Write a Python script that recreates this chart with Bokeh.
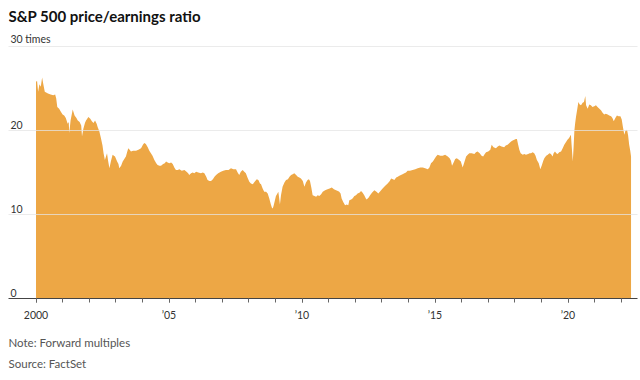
from bokeh.plotting import figure
from bokeh.models import ColumnDataSource, Range1d, FixedTicker, Label, Title
from bokeh.core.properties import value
from bokeh.embed import file_html
from bokeh.resources import INLINE

# ---- data (decimal year, forward P/E) ----
dates = [
    2000.00, 2000.04, 2000.08, 2000.13, 2000.18, 2000.23, 2000.27, 2000.33, 2000.45, 2000.55,
    2000.65, 2000.72, 2000.76, 2000.80, 2000.87, 2000.94, 2001.00, 2001.06, 2001.12, 2001.19,
    2001.23, 2001.25, 2001.30, 2001.38, 2001.45, 2001.52, 2001.57, 2001.64, 2001.70, 2001.73,
    2001.78, 2001.84, 2001.88, 2001.97, 2002.04, 2002.10, 2002.16, 2002.22, 2002.28, 2002.32,
    2002.38, 2002.44, 2002.50, 2002.54, 2002.59, 2002.64, 2002.67, 2002.71, 2002.76, 2002.82,
    2002.88, 2002.93, 2002.97, 2003.05, 2003.10, 2003.13, 2003.20, 2003.26, 2003.32, 2003.38,
    2003.44, 2003.47, 2003.52, 2003.57, 2003.65, 2003.76, 2003.85, 2003.95, 2004.02, 2004.07,
    2004.13, 2004.20, 2004.26, 2004.32, 2004.38, 2004.45, 2004.52, 2004.57, 2004.64, 2004.70,
    2004.78, 2004.84, 2004.89, 2004.95, 2005.01, 2005.08, 2005.14, 2005.20, 2005.26, 2005.33,
    2005.39, 2005.48, 2005.58, 2005.66, 2005.72, 2005.76, 2005.83, 2005.89, 2005.95, 2006.02,
    2006.10, 2006.20, 2006.27, 2006.33, 2006.40, 2006.45, 2006.52, 2006.58, 2006.65, 2006.71,
    2006.77, 2006.85, 2006.95, 2007.04, 2007.14, 2007.24, 2007.33, 2007.42, 2007.52, 2007.58,
    2007.64, 2007.70, 2007.77, 2007.83, 2007.89, 2007.95, 2008.02, 2008.08, 2008.15, 2008.22,
    2008.30, 2008.36, 2008.42, 2008.46, 2008.52, 2008.58, 2008.65, 2008.71, 2008.77, 2008.83,
    2008.87, 2008.90, 2008.93, 2008.96, 2009.02, 2009.06, 2009.11, 2009.14, 2009.17, 2009.21,
    2009.27, 2009.34, 2009.40, 2009.47, 2009.53, 2009.59, 2009.65, 2009.71, 2009.78, 2009.84,
    2009.90, 2009.96, 2010.03, 2010.09, 2010.15, 2010.21, 2010.26, 2010.30, 2010.35, 2010.40,
    2010.47, 2010.53, 2010.59, 2010.65, 2010.72, 2010.78, 2010.87, 2010.96, 2011.04, 2011.12,
    2011.20, 2011.28, 2011.35, 2011.40, 2011.45, 2011.49, 2011.55, 2011.62, 2011.68, 2011.74,
    2011.78, 2011.85, 2011.90, 2011.97, 2012.03, 2012.09, 2012.16, 2012.22, 2012.28, 2012.34,
    2012.40, 2012.43, 2012.50, 2012.56, 2012.63, 2012.72, 2012.80, 2012.87, 2012.95, 2013.03,
    2013.12, 2013.22, 2013.30, 2013.35, 2013.42, 2013.47, 2013.54, 2013.60, 2013.66, 2013.72,
    2013.78, 2013.85, 2013.91, 2013.97, 2014.06, 2014.16, 2014.26, 2014.35, 2014.45, 2014.54,
    2014.63, 2014.73, 2014.79, 2014.85, 2014.92, 2014.98, 2015.04, 2015.10, 2015.20, 2015.29,
    2015.38, 2015.48, 2015.55, 2015.60, 2015.64, 2015.70, 2015.76, 2015.82, 2015.91, 2015.97,
    2016.04, 2016.10, 2016.17, 2016.23, 2016.29, 2016.38, 2016.48, 2016.54, 2016.60, 2016.68,
    2016.75, 2016.81, 2016.87, 2016.92, 2017.00, 2017.08, 2017.13, 2017.20, 2017.29, 2017.36,
    2017.42, 2017.50, 2017.60, 2017.66, 2017.73, 2017.80, 2017.86, 2017.92, 2017.98, 2018.04,
    2018.08, 2018.12, 2018.17, 2018.22, 2018.30, 2018.36, 2018.42, 2018.50, 2018.56, 2018.61,
    2018.67, 2018.73, 2018.78, 2018.83, 2018.90, 2018.96, 2019.02, 2019.07, 2019.11, 2019.18,
    2019.24, 2019.30, 2019.36, 2019.42, 2019.46, 2019.51, 2019.56, 2019.61, 2019.67, 2019.74,
    2019.80, 2019.86, 2019.92, 2019.98, 2020.04, 2020.11, 2020.13, 2020.18, 2020.21, 2020.24,
    2020.27, 2020.30, 2020.35, 2020.39, 2020.44, 2020.49, 2020.55, 2020.60, 2020.65, 2020.68,
    2020.74, 2020.80, 2020.86, 2020.92, 2020.99, 2021.05, 2021.11, 2021.18, 2021.24, 2021.30,
    2021.36, 2021.42, 2021.49, 2021.55, 2021.62, 2021.67, 2021.72, 2021.78, 2021.84, 2021.90,
    2021.97, 2022.02, 2022.06, 2022.10, 2022.12, 2022.16, 2022.22, 2022.26, 2022.30, 2022.34,
    2022.37,
]
pe_ratio = [
    25.8, 25.9, 24.6, 25.5, 25.2, 26.3, 25.6, 24.6, 24.4, 24.3,
    24.2, 24.3, 23.8, 22.8, 22.6, 22.2, 21.9, 21.8, 21.5, 20.8,
    21.0, 19.7, 21.2, 22.5, 21.8, 21.5, 21.2, 21.0, 20.6, 19.3,
    20.2, 20.9, 21.2, 21.6, 21.4, 21.1, 20.9, 21.2, 20.8, 20.4,
    19.9, 19.1, 18.2, 17.3, 16.5, 17.0, 17.3, 16.4, 15.5, 16.4,
    17.1, 17.0, 16.9, 16.3, 16.0, 15.5, 15.8, 16.3, 16.6, 16.9,
    17.6, 17.9, 17.7, 17.5, 17.6, 17.6, 17.7, 17.9, 18.3, 18.5,
    18.4, 18.0, 17.6, 17.3, 17.0, 16.5, 16.1, 15.9, 15.8, 15.8,
    16.0, 16.1, 16.3, 16.2, 16.1, 16.2, 16.0, 15.6, 15.3, 15.3,
    15.4, 15.2, 15.3, 15.1, 14.9, 14.7, 14.9, 15.0, 14.9, 15.1,
    15.0, 14.9, 15.0, 14.9, 14.5, 14.1, 14.0, 14.0, 14.2, 14.5,
    14.7, 14.9, 15.1, 15.2, 15.3, 15.3, 15.5, 15.4, 15.4, 15.0,
    14.7, 15.1, 15.3, 15.1, 14.9, 14.4, 13.9, 13.7, 13.6, 13.9,
    14.2, 14.1, 13.7, 13.6, 13.1, 12.7, 12.7, 12.5, 11.9, 11.2,
    10.8, 10.7, 11.0, 11.4, 12.2, 12.4, 12.7, 12.0, 11.2, 12.3,
    13.3, 13.8, 14.1, 14.2, 14.5, 14.7, 14.8, 14.9, 14.7, 14.5,
    14.4, 14.3, 14.0, 13.3, 13.8, 14.1, 14.2, 14.0, 13.2, 12.3,
    12.2, 12.1, 12.3, 12.2, 12.4, 12.7, 12.9, 13.0, 13.1, 13.2,
    13.0, 12.9, 12.8, 12.7, 12.5, 11.9, 11.5, 11.1, 11.2, 11.1,
    11.7, 11.8, 11.9, 12.2, 12.3, 12.5, 12.6, 12.8, 12.6, 12.3,
    11.9, 11.8, 12.0, 12.3, 12.6, 12.9, 12.7, 12.5, 12.8, 13.1,
    13.4, 13.7, 14.0, 14.3, 14.2, 14.1, 14.4, 14.5, 14.6, 14.7,
    14.8, 14.9, 15.0, 15.2, 15.2, 15.3, 15.4, 15.5, 15.6, 15.6,
    15.5, 15.4, 15.6, 16.1, 16.3, 16.6, 16.9, 17.1, 17.0, 17.0,
    17.1, 16.9, 16.7, 16.4, 15.8, 16.2, 16.6, 16.7, 16.5, 16.3,
    15.6, 16.2, 16.9, 17.1, 17.3, 17.3, 17.2, 17.4, 17.5, 17.3,
    17.0, 16.9, 17.2, 17.4, 17.5, 17.7, 18.3, 18.0, 17.9, 18.1,
    18.2, 18.1, 18.0, 18.2, 18.3, 18.5, 18.7, 18.8, 18.9, 19.0,
    19.0, 18.4, 17.7, 17.3, 17.1, 17.2, 17.1, 17.2, 17.3, 17.3,
    17.4, 17.3, 17.0, 16.5, 16.1, 15.4, 15.9, 16.4, 16.7, 17.0,
    17.1, 17.3, 17.2, 16.9, 17.3, 17.5, 17.3, 17.2, 17.4, 17.5,
    17.9, 18.3, 18.6, 18.9, 19.1, 19.5, 18.5, 16.3, 18.0, 20.0,
    20.9, 21.6, 22.6, 23.4, 23.1, 23.0, 23.3, 23.4, 24.1, 23.0,
    22.6, 23.1, 23.0, 22.8, 22.9, 23.0, 22.8, 22.6, 22.4, 22.1,
    21.9, 22.0, 21.9, 21.8, 21.7, 21.5, 21.1, 21.5, 21.8, 21.7,
    21.7, 21.3, 20.5, 19.8, 19.5, 20.0, 20.1, 19.4, 18.3, 17.6,
    16.9,
]

y_tick_values = [0, 10, 20, 30]
y_tick_labels = ["0", "10", "20", "30 times"]
x_tick_values = [2000, 2005, 2010, 2015, 2020]
x_tick_labels = ["2000", "\u201905", "\u201910", "\u201915", "\u201920"]
x_minor_ticks = list(range(2000, 2023))

title_text = "S&P 500 price/earnings ratio"
note_text = "Note: Forward multiples"
source_text = "Source: FactSet"

# ---- layout geometry (page pixels) ----
W, H = 640, 380
FRAME_LEFT = 8
FRAME_RIGHT_BORDER = 3
FRAME_BOTTOM = 298.0
PX_PER_UNIT = 8.4
PX_PER_YEAR = 26.6
X0_PAGE = 35.5  # page x of year 2000
FRAME_W = W - FRAME_LEFT - FRAME_RIGHT_BORDER
x_start = 2000 - (X0_PAGE - FRAME_LEFT) / PX_PER_YEAR
x_end = x_start + FRAME_W / PX_PER_YEAR
y_end = FRAME_BOTTOM / PX_PER_UNIT


def y_at(page_y):
    return (FRAME_BOTTOM - page_y) / PX_PER_UNIT


FONT = "Lato"

p = figure(width=W, height=H, output_backend="svg", toolbar_location=None,
           x_range=Range1d(x_start, x_end), y_range=Range1d(0, y_end),
           y_axis_location=None, min_border_left=FRAME_LEFT,
           min_border_right=FRAME_RIGHT_BORDER, min_border_top=0,
           min_border_bottom=int(H - FRAME_BOTTOM))
p.outline_line_color = None
p.background_fill_color = "white"
p.border_fill_color = "white"

src = ColumnDataSource(dict(x=dates, y=pe_ratio))
p.varea(x="x", y1=0, y2="y", source=src, fill_color="#EDA745")

# grid drawn above area
p.xgrid.visible = False
p.ygrid.ticker = FixedTicker(ticks=y_tick_values)
p.ygrid.grid_line_color = "#e4e4e4"
p.ygrid.grid_line_alpha = 0.75
p.ygrid.grid_line_width = 1
p.ygrid.level = "overlay"

# x axis
ax = p.xaxis[0]
ax.ticker = FixedTicker(ticks=x_tick_values, minor_ticks=x_minor_ticks)
ax.major_label_overrides = {v: t for v, t in zip(x_tick_values, x_tick_labels)}
ax.axis_line_color = "#444444"
ax.axis_line_width = 1
ax.major_tick_line_color = "#666666"
ax.minor_tick_line_color = "#666666"
ax.major_tick_in = 0
ax.major_tick_out = 4
ax.minor_tick_in = 0
ax.minor_tick_out = 4
ax.major_label_standoff = 6
ax.major_label_text_font = FONT
ax.major_label_text_font_size = "10.5px"
ax.major_label_text_color = "#333333"

# y tick labels inside the frame, above gridlines
ysrc = ColumnDataSource(dict(x=[x_start] * len(y_tick_values), y=y_tick_values, t=y_tick_labels))
p.text(x="x", y="y", text="t", source=ysrc, x_offset=2, y_offset=-2,
       text_font=value(FONT), text_font_size="10.5px", text_color="#333333",
       text_baseline="bottom", text_align="left")

# title
p.add_layout(Label(x=x_start, y=y_at(15), text=title_text, text_font=FONT,
                   text_font_size="15px", text_font_style="bold", text_color="#111111",
                   text_baseline="middle", text_align="left"))

# notes below the axis
for txt, gap in ((note_text, 20), (source_text, -7)):
    p.add_layout(Title(text=txt, align="left", text_font=FONT, text_font_size="11.5px",
                       text_font_style="normal", text_color="#555555", standoff=gap),
                 "below")

open("out.html", "w").write(file_html(p, INLINE))
